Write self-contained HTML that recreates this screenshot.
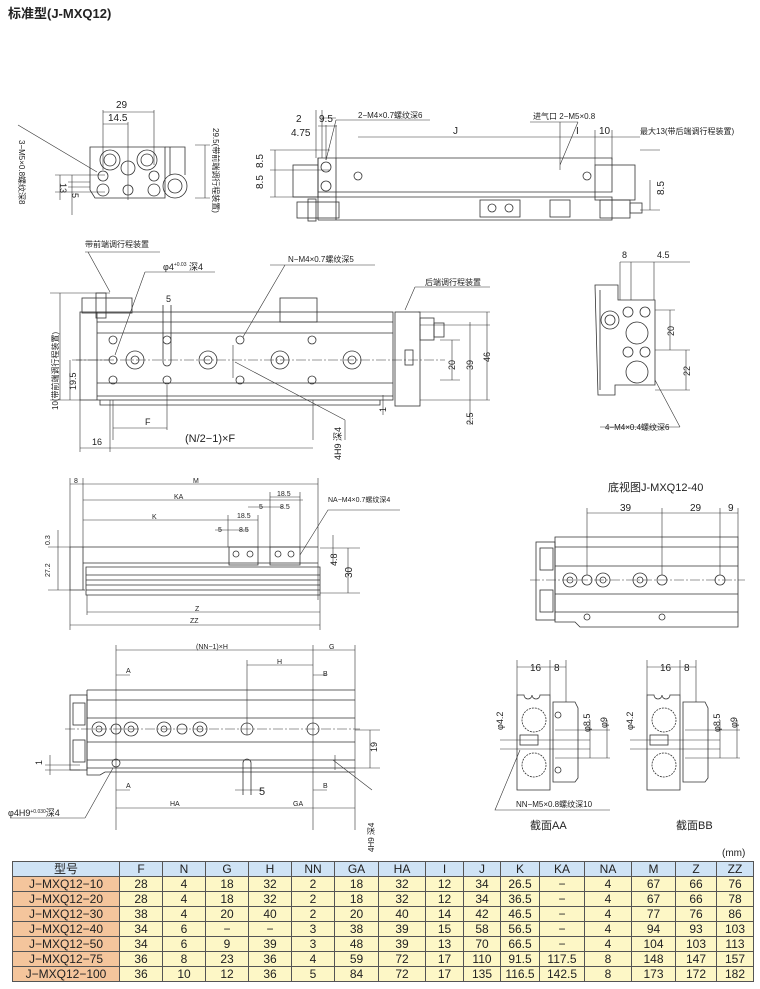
<!DOCTYPE html>
<html><head><meta charset="utf-8"><style>
body{margin:0;width:760px;height:989px;background:#fff;overflow:hidden;position:relative;font-family:"Liberation Sans","Noto Sans CJK SC",sans-serif}
svg{position:absolute;left:0;top:0}
svg text{font-family:"Liberation Sans","Noto Sans CJK SC",sans-serif;fill:#222}
table{position:absolute;left:12px;top:861px;border-collapse:collapse;font-size:12px;color:#222}
td{border:1px solid #555;height:14px;padding:0;text-align:center;line-height:14px;background:#fdf7c6}
tr:first-child td{background:#cfe3f5}
td.m{background:#f4c59c}
</style></head><body>
<svg width="760" height="989" viewBox="0 0 760 989" stroke="#333" stroke-width="0.8" fill="none">
<text x="8" y="18" font-size="13" font-weight="bold" stroke="none">标准型(J-MXQ12)</text>

<!-- VIEW 1 end view -->
<g>
<path d="M90 147 H165 V198 H95 L90 190 Z"/>
<path d="M165 147 H185 V175 M170 147 V175"/>
<circle cx="110" cy="160" r="10"/><circle cx="110" cy="160" r="6"/>
<circle cx="147" cy="160" r="10"/><circle cx="147" cy="160" r="6"/>
<circle cx="128" cy="168" r="7"/>
<circle cx="103" cy="176" r="5"/><circle cx="154" cy="176" r="5"/>
<circle cx="103" cy="190" r="6"/><circle cx="128" cy="190" r="5"/><circle cx="154" cy="190" r="6"/>
<circle cx="175" cy="186" r="12"/><circle cx="175" cy="186" r="7"/>
<path d="M103 110 V170 M154 110 V165 M128 122 V200 M103 112 H154 M103 124 H128" stroke-width="0.6"/>
<path d="M18 125 L97 172 M55 175 H105 M55 192 H105 M68 182 H90 M68 187 H90 M72 175 V215 M60 175 V200" stroke-width="0.6"/>
<path d="M195 145 H210 M195 198 H210 M205 145 V198" stroke-width="0.6"/>
</g>
<text x="116" y="108" font-size="10" stroke="none">29</text>
<text x="108" y="121" font-size="10" stroke="none">14.5</text>
<text x="60" y="183" font-size="9" stroke="none" transform="rotate(90 60 183)">13</text>
<text x="72" y="193" font-size="9" stroke="none" transform="rotate(90 72 193)">5</text>
<text x="19" y="140" font-size="8" stroke="none" transform="rotate(90 19 140)">3−M5×0.8螺纹深8</text>
<text x="213" y="128" font-size="8" stroke="none" transform="rotate(90 213 128)">29.5(带前端调行程装置)</text>

<!-- VIEW 2 side view -->
<g>
<path d="M318 158 H612 V192 H318 Z M318 192 H612 M318 197 H612 V220 H318"/>
<path d="M318 158 V220 M336 158 V220"/>
<rect x="293" y="165" width="25" height="32"/>
<rect x="297" y="202" width="42" height="16"/>
<rect x="308" y="199" width="8" height="22"/>
<rect x="595" y="165" width="40" height="35"/>
<rect x="600" y="200" width="30" height="18"/>
<rect x="630" y="203" width="12" height="10"/>
<circle cx="326" cy="167" r="5"/><circle cx="326" cy="186" r="5"/>
<circle cx="358" cy="176" r="4"/><circle cx="587" cy="176" r="4"/>
<rect x="480" y="200" width="40" height="17"/><circle cx="492" cy="208" r="4"/><circle cx="509" cy="208" r="4"/>
<rect x="550" y="200" width="20" height="17"/>
<path d="M316 110 V158 M322 110 V158 M326 125 V160 M336 125 V158 M318 126 H337 M322 118 H336" stroke-width="0.6"/>
<path d="M270 150 H330 M270 170 H330 M270 197 H330 M275 150 V197 M336 120 L326 160 M336 120 H430" stroke-width="0.6"/>
<path d="M358 137 H560 M560 122 V170 M560 137 H595 M595 130 V165 M595 137 H612 M612 130 V160 M612 137 H640 M530 122 H578 M578 122 L560 165 M640 150 H660 M640 210 H660 M650 180 V210" stroke-width="0.6"/>
</g>
<text x="296" y="122" font-size="10" stroke="none">2</text>
<text x="319" y="122" font-size="10" stroke="none">9.5</text>
<text x="291" y="136" font-size="10" stroke="none">4.75</text>
<text x="358" y="118" font-size="8" stroke="none">2−M4×0.7螺纹深6</text>
<text x="453" y="134" font-size="10" stroke="none">J</text>
<text x="533" y="119" font-size="8" stroke="none">进气口 2−M5×0.8</text>
<text x="576" y="134" font-size="10" stroke="none">I</text>
<text x="599" y="134" font-size="10" stroke="none">10</text>
<text x="640" y="134" font-size="8" stroke="none">最大13(带后端调行程装置)</text>
<text x="262" y="157" font-size="10" stroke="none" transform="rotate(-90 268 162)">8.5</text>
<text x="262" y="178" font-size="10" stroke="none" transform="rotate(-90 268 183)">8.5</text>
<text x="653" y="192" font-size="10" stroke="none" transform="rotate(-90 660 188)">8.5</text>

<!-- VIEW 3 top view -->
<g>
<rect x="80" y="312" width="313" height="88"/>
<path d="M97 312 V400 M97 322 H393 M97 333 H393 M97 383 H393 M97 396 H393 M100 400 V405 H380 V400"/>
<rect x="82" y="298" width="50" height="15"/><rect x="96" y="293" width="10" height="25"/>
<rect x="280" y="298" width="37" height="24"/>
<rect x="395" y="312" width="25" height="94"/><rect x="420" y="318" width="14" height="22"/><rect x="434" y="323" width="10" height="14"/>
<rect x="405" y="350" width="8" height="15"/>
<circle cx="113" cy="340" r="4"/><circle cx="167" cy="340" r="4"/><circle cx="240" cy="340" r="4"/><circle cx="312" cy="340" r="4"/>
<circle cx="113" cy="380" r="4"/><circle cx="167" cy="380" r="4"/><circle cx="240" cy="380" r="4"/><circle cx="312" cy="380" r="4"/>
<circle cx="113" cy="360" r="4"/>
<path d="M163 305 V362 A4 4 0 0 0 171 362 V305"/>
<circle cx="135" cy="360" r="9"/><circle cx="135" cy="360" r="4"/>
<circle cx="208" cy="360" r="9"/><circle cx="208" cy="360" r="4"/>
<circle cx="280" cy="360" r="9"/><circle cx="280" cy="360" r="4"/>
<circle cx="352" cy="360" r="9"/><circle cx="352" cy="360" r="4"/>
<path d="M72 360 H445" stroke-dasharray="10 2 2 2" stroke-width="0.5"/>
<path d="M85 252 H160 M88 252 L110 292 M145 272 H215 M145 272 L115 355 M270 265 H375 M285 265 L243 337 M415 287 H490 M415 287 L405 310" stroke-width="0.6"/>
<path d="M233 345 V378 M235 362 L345 420 M345 420 V440" stroke-width="0.6"/>
<path d="M50 293 H110 M50 400 H80 M60 293 V400 M70 360 V400 M76 360 H110 M110 400 V452 M113 400 V440 M167 385 V430 M313 400 V440 M113 428 H167 M80 448 H113 M113 448 H313 M80 400 V452" stroke-width="0.6"/>
<path d="M420 325 H490 M420 400 H490 M440 340 H460 M440 380 H460 M452 340 V380 M470 322 V400 M487 312 V400 M470 400 V425 M383 395 V415 M418 312 H490" stroke-width="0.6"/>
</g>
<text x="85" y="247" font-size="8" stroke="none">带前端调行程装置</text>
<text x="163" y="270" font-size="9" stroke="none">φ4<tspan font-size="5" dy="-4">+0.03</tspan><tspan font-size="9" dy="4"> 深4</tspan></text>
<text x="288" y="262" font-size="8" stroke="none">N−M4×0.7螺纹深5</text>
<text x="425" y="285" font-size="8" stroke="none">后端调行程装置</text>
<text x="166" y="302" font-size="9" stroke="none">5</text>
<text x="145" y="425" font-size="9" stroke="none">F</text>
<text x="185" y="442" font-size="11" stroke="none">(N/2−1)×F</text>
<text x="92" y="445" font-size="9" stroke="none">16</text>
<text x="58" y="410" font-size="8" stroke="none" transform="rotate(-90 58 410)">10(带前端调行程装置)</text>
<text x="76" y="390" font-size="9" stroke="none" transform="rotate(-90 76 390)">19.5</text>
<text x="386" y="412" font-size="9" stroke="none" transform="rotate(-90 386 412)">1</text>
<text x="341" y="460" font-size="9" stroke="none" transform="rotate(-90 341 460)">4H9 深4</text>
<text x="455" y="370" font-size="9" stroke="none" transform="rotate(-90 455 370)">20</text>
<text x="473" y="370" font-size="9" stroke="none" transform="rotate(-90 473 370)">39</text>
<text x="490" y="362" font-size="9" stroke="none" transform="rotate(-90 490 362)">46</text>
<text x="473" y="425" font-size="9" stroke="none" transform="rotate(-90 473 425)">2.5</text>

<!-- VIEW 4 right end -->
<g>
<path d="M595 285 H618 V300 H655 V385 H615 V395 H598 Z"/>
<path d="M600 290 V390"/>
<circle cx="610" cy="320" r="9"/><circle cx="610" cy="320" r="5"/>
<circle cx="628" cy="312" r="5"/><circle cx="645" cy="312" r="5"/>
<circle cx="637" cy="333" r="11"/><circle cx="637" cy="372" r="11"/>
<circle cx="628" cy="352" r="5"/><circle cx="645" cy="352" r="5"/>
<path d="M620 262 V300 M631 262 V300 M654 262 V300 M620 262 H690 M655 310 H675 M655 350 H690 M655 390 H690 M670 310 V350 M686 350 V390 M600 427 H680 M680 427 L655 380" stroke-width="0.6"/>
</g>
<text x="622" y="258" font-size="9" stroke="none">8</text>
<text x="657" y="258" font-size="9" stroke="none">4.5</text>
<text x="674" y="336" font-size="9" stroke="none" transform="rotate(-90 674 336)">20</text>
<text x="690" y="376" font-size="9" stroke="none" transform="rotate(-90 690 376)">22</text>
<text x="605" y="430" font-size="8" stroke="none">4−M4×0.4螺纹深6</text>

<!-- VIEW 5 -->
<g>
<path d="M70 547 H318 M83 547 V590 M70 547 V590 H85"/>
<rect x="229" y="547" width="29" height="18"/><rect x="270" y="547" width="30" height="18"/>
<circle cx="236" cy="554" r="3"/><circle cx="250" cy="554" r="3"/><circle cx="278" cy="554" r="3"/><circle cx="291" cy="554" r="3"/>
<path d="M83 563 H318 M86 567 H320 V595 H86 Z M86 575 H320 M86 580 H320 M86 585 H320 M86 590 H320"/>
<path d="M70 478 V547 M83 478 V547 M318 478 V600 M70 484 H318 M83 500 H303 M83 520 H228 M228 515 V547 M258 515 V547 M270 492 V547 M300 492 V547 M228 520 H258 M270 497 H300 M248 507 H270 M270 507 H283 M215 530 H229 M229 530 H248 M87 612 H320 M70 625 H320 M70 590 V630 M87 595 V615 M320 595 V630 M320 548 H360 M320 593 H360 M348 548 V593 M333 535 V565 M300 555 L328 510 H400 M48 547 H70 M48 590 H70 M58 530 V590" stroke-width="0.6"/>
</g>
<text x="74" y="483" font-size="7" stroke="none">8</text>
<text x="193" y="483" font-size="7" stroke="none">M</text>
<text x="174" y="499" font-size="7" stroke="none">KA</text>
<text x="152" y="519" font-size="7" stroke="none">K</text>
<text x="237" y="518" font-size="7" stroke="none">18.5</text>
<text x="277" y="496" font-size="7" stroke="none">18.5</text>
<text x="259" y="509" font-size="7" stroke="none">5</text>
<text x="280" y="509" font-size="7" stroke="none">8.5</text>
<text x="218" y="532" font-size="7" stroke="none">5</text>
<text x="239" y="532" font-size="7" stroke="none">8.5</text>
<text x="328" y="502" font-size="7" stroke="none">NA−M4×0.7螺纹深4</text>
<text x="195" y="611" font-size="7" stroke="none">Z</text>
<text x="190" y="623" font-size="7" stroke="none">ZZ</text>
<text x="50" y="545" font-size="7" stroke="none" transform="rotate(-90 50 545)">0.3</text>
<text x="50" y="577" font-size="7" stroke="none" transform="rotate(-90 50 577)">27.2</text>
<text x="337" y="566" font-size="9" stroke="none" transform="rotate(-90 337 566)">4.8</text>
<text x="352" y="578" font-size="10" stroke="none" transform="rotate(-90 352 578)">30</text>

<!-- VIEW 6 -->
<g>
<path d="M87 690 H355 M87 700 H355 M87 718 H355 M87 742 H355 M87 760 H355 M87 768 H355 M87 690 V775 H100 L105 772 H355"/>
<rect x="70" y="695" width="17" height="75"/><rect x="73" y="703" width="12" height="22"/><rect x="73" y="740" width="12" height="22"/>
<path d="M65 729 H360" stroke-dasharray="10 2 2 2" stroke-width="0.5"/>
<circle cx="99" cy="729" r="7"/><circle cx="99" cy="729" r="3"/><circle cx="116" cy="729" r="5"/>
<circle cx="131" cy="729" r="7"/><circle cx="131" cy="729" r="3"/><circle cx="164" cy="729" r="7"/><circle cx="164" cy="729" r="3"/>
<circle cx="182" cy="729" r="5"/><circle cx="200" cy="729" r="7"/><circle cx="200" cy="729" r="3"/>
<circle cx="247" cy="729" r="6"/><circle cx="313" cy="729" r="6"/>
<circle cx="116" cy="763" r="4"/><path d="M243 763 V795 M251 763 V795 M243 763 A4 4 0 0 1 251 763"/>
<path d="M116 645 V830 M313 645 V830 M355 645 V830 M247 660 V735 M116 650 H313 M313 650 H355 M247 665 H313 M116 808 H247 M247 808 H355 M116 675 H130 M116 790 H130 M313 675 H327 M313 790 H327 M235 790 H262 M45 770 H80 M45 765 H80 M50 755 V775 M10 818 H85 M85 818 L113 768 M335 755 V770 M333 760 L372 790" stroke-width="0.6"/>
<path d="M355 730 H380 M355 768 H380 M370 730 V768" stroke-width="0.6"/>
</g>
<text x="196" y="649" font-size="7" stroke="none">(NN−1)×H</text>
<text x="329" y="649" font-size="7" stroke="none">G</text>
<text x="277" y="664" font-size="7" stroke="none">H</text>
<text x="126" y="673" font-size="7" stroke="none">A</text>
<text x="126" y="788" font-size="7" stroke="none">A</text>
<text x="323" y="676" font-size="7" stroke="none">B</text>
<text x="323" y="788" font-size="7" stroke="none">B</text>
<text x="259" y="795" font-size="11" stroke="none">5</text>
<text x="170" y="806" font-size="7" stroke="none">HA</text>
<text x="293" y="806" font-size="7" stroke="none">GA</text>
<text x="8" y="816" font-size="9" stroke="none">φ4H9<tspan font-size="5" dy="-3">+0.030</tspan><tspan font-size="9" dy="3">深4</tspan></text>
<text x="42" y="765" font-size="9" stroke="none" transform="rotate(-90 42 765)">1</text>
<text x="377" y="752" font-size="9" stroke="none" transform="rotate(-90 377 752)">19</text>
<text x="374" y="852" font-size="8" stroke="none" transform="rotate(-90 374 852)">4H9 深4</text>

<!-- VIEW 7 bottom -->
<text x="608" y="491" font-size="11" stroke="none">底视图J-MXQ12-40</text>
<g>
<path d="M555 537 H738 V627 H580 L575 622 H555 Z M555 547 H738 M555 566 H738 M555 594 H738 M555 612 H738"/>
<rect x="536" y="542" width="19" height="78"/><rect x="540" y="548" width="13" height="22"/><rect x="540" y="590" width="13" height="22"/>
<path d="M530 580 H745" stroke-dasharray="10 2 2 2" stroke-width="0.5"/>
<circle cx="570" cy="580" r="7"/><circle cx="570" cy="580" r="3"/><circle cx="587" cy="580" r="5"/>
<circle cx="603" cy="580" r="7"/><circle cx="603" cy="580" r="3"/><circle cx="640" cy="580" r="7"/><circle cx="640" cy="580" r="3"/>
<circle cx="662" cy="580" r="5"/><circle cx="720" cy="580" r="5"/>
<circle cx="587" cy="617" r="3"/><circle cx="662" cy="617" r="3"/>
<path d="M587 508 V575 M662 508 V575 M720 508 V575 M738 508 V537 M587 513 H738" stroke-width="0.6"/>
</g>
<text x="620" y="511" font-size="10" stroke="none">39</text>
<text x="690" y="511" font-size="10" stroke="none">29</text>
<text x="728" y="511" font-size="10" stroke="none">9</text>

<!-- SECTIONS -->
<g id="sec">
<path d="M517 695 H524 A4 4 0 0 0 532 695 A4 4 0 0 0 540 695 H550 V790 H517 Z"/>
<path d="M553 702 H575 L578 708 V778 L575 782 H553 Z"/>
<circle cx="534" cy="720" r="12" stroke-dasharray="2 1"/><circle cx="534" cy="765" r="12" stroke-dasharray="2 1"/>
<rect x="520" y="735" width="18" height="10"/>
<path d="M500 740 H590 M500 749 H590" stroke-width="0.6"/>
<path d="M517 660 V695 M550 660 V695 M566 660 V702 M517 667 H566 M555 730 H610 M555 758 H610 M590 720 V758 M607 720 V758" stroke-width="0.6"/>
</g>
<circle cx="558" cy="715" r="3"/><circle cx="558" cy="770" r="3"/>
<use href="#sec" transform="translate(130 0)"/>
<path d="M520 750 L495 810 H610" stroke-width="0.6"/>
<text x="530" y="671" font-size="10" stroke="none">16</text>
<text x="554" y="671" font-size="10" stroke="none">8</text>
<text x="660" y="671" font-size="10" stroke="none">16</text>
<text x="684" y="671" font-size="10" stroke="none">8</text>
<text x="503" y="730" font-size="9" stroke="none" transform="rotate(-90 503 730)">φ4.2</text>
<text x="590" y="732" font-size="9" stroke="none" transform="rotate(-90 590 732)">φ8.5</text>
<text x="607" y="728" font-size="9" stroke="none" transform="rotate(-90 607 728)">φ9</text>
<text x="633" y="730" font-size="9" stroke="none" transform="rotate(-90 633 730)">φ4.2</text>
<text x="720" y="732" font-size="9" stroke="none" transform="rotate(-90 720 732)">φ8.5</text>
<text x="737" y="728" font-size="9" stroke="none" transform="rotate(-90 737 728)">φ9</text>
<text x="516" y="807" font-size="8" stroke="none">NN−M5×0.8螺纹深10</text>
<text x="530" y="829" font-size="11" stroke="none">截面AA</text>
<text x="676" y="829" font-size="11" stroke="none">截面BB</text>
<text x="722" y="856" font-size="10" stroke="none">(mm)</text>
</svg>
<table>
<tr><td style="width:106px">型号</td><td style="width:42px">F</td><td style="width:42px">N</td><td style="width:42px">G</td><td style="width:42px">H</td><td style="width:42px">NN</td><td style="width:43px">GA</td><td style="width:46px">HA</td><td style="width:37px">I</td><td style="width:36px">J</td><td style="width:38px">K</td><td style="width:44px">KA</td><td style="width:46px">NA</td><td style="width:43px">M</td><td style="width:40px">Z</td><td style="width:36px">ZZ</td></tr>
<tr><td class="m">J−MXQ12−10</td><td>28</td><td>4</td><td>18</td><td>32</td><td>2</td><td>18</td><td>32</td><td>12</td><td>34</td><td>26.5</td><td>−</td><td>4</td><td>67</td><td>66</td><td>76</td></tr>
<tr><td class="m">J−MXQ12−20</td><td>28</td><td>4</td><td>18</td><td>32</td><td>2</td><td>18</td><td>32</td><td>12</td><td>34</td><td>36.5</td><td>−</td><td>4</td><td>67</td><td>66</td><td>78</td></tr>
<tr><td class="m">J−MXQ12−30</td><td>38</td><td>4</td><td>20</td><td>40</td><td>2</td><td>20</td><td>40</td><td>14</td><td>42</td><td>46.5</td><td>−</td><td>4</td><td>77</td><td>76</td><td>86</td></tr>
<tr><td class="m">J−MXQ12−40</td><td>34</td><td>6</td><td>−</td><td>−</td><td>3</td><td>38</td><td>39</td><td>15</td><td>58</td><td>56.5</td><td>−</td><td>4</td><td>94</td><td>93</td><td>103</td></tr>
<tr><td class="m">J−MXQ12−50</td><td>34</td><td>6</td><td>9</td><td>39</td><td>3</td><td>48</td><td>39</td><td>13</td><td>70</td><td>66.5</td><td>−</td><td>4</td><td>104</td><td>103</td><td>113</td></tr>
<tr><td class="m">J−MXQ12−75</td><td>36</td><td>8</td><td>23</td><td>36</td><td>4</td><td>59</td><td>72</td><td>17</td><td>110</td><td>91.5</td><td>117.5</td><td>8</td><td>148</td><td>147</td><td>157</td></tr>
<tr><td class="m">J−MXQ12−100</td><td>36</td><td>10</td><td>12</td><td>36</td><td>5</td><td>84</td><td>72</td><td>17</td><td>135</td><td>116.5</td><td>142.5</td><td>8</td><td>173</td><td>172</td><td>182</td></tr>
</table>
</body></html>
